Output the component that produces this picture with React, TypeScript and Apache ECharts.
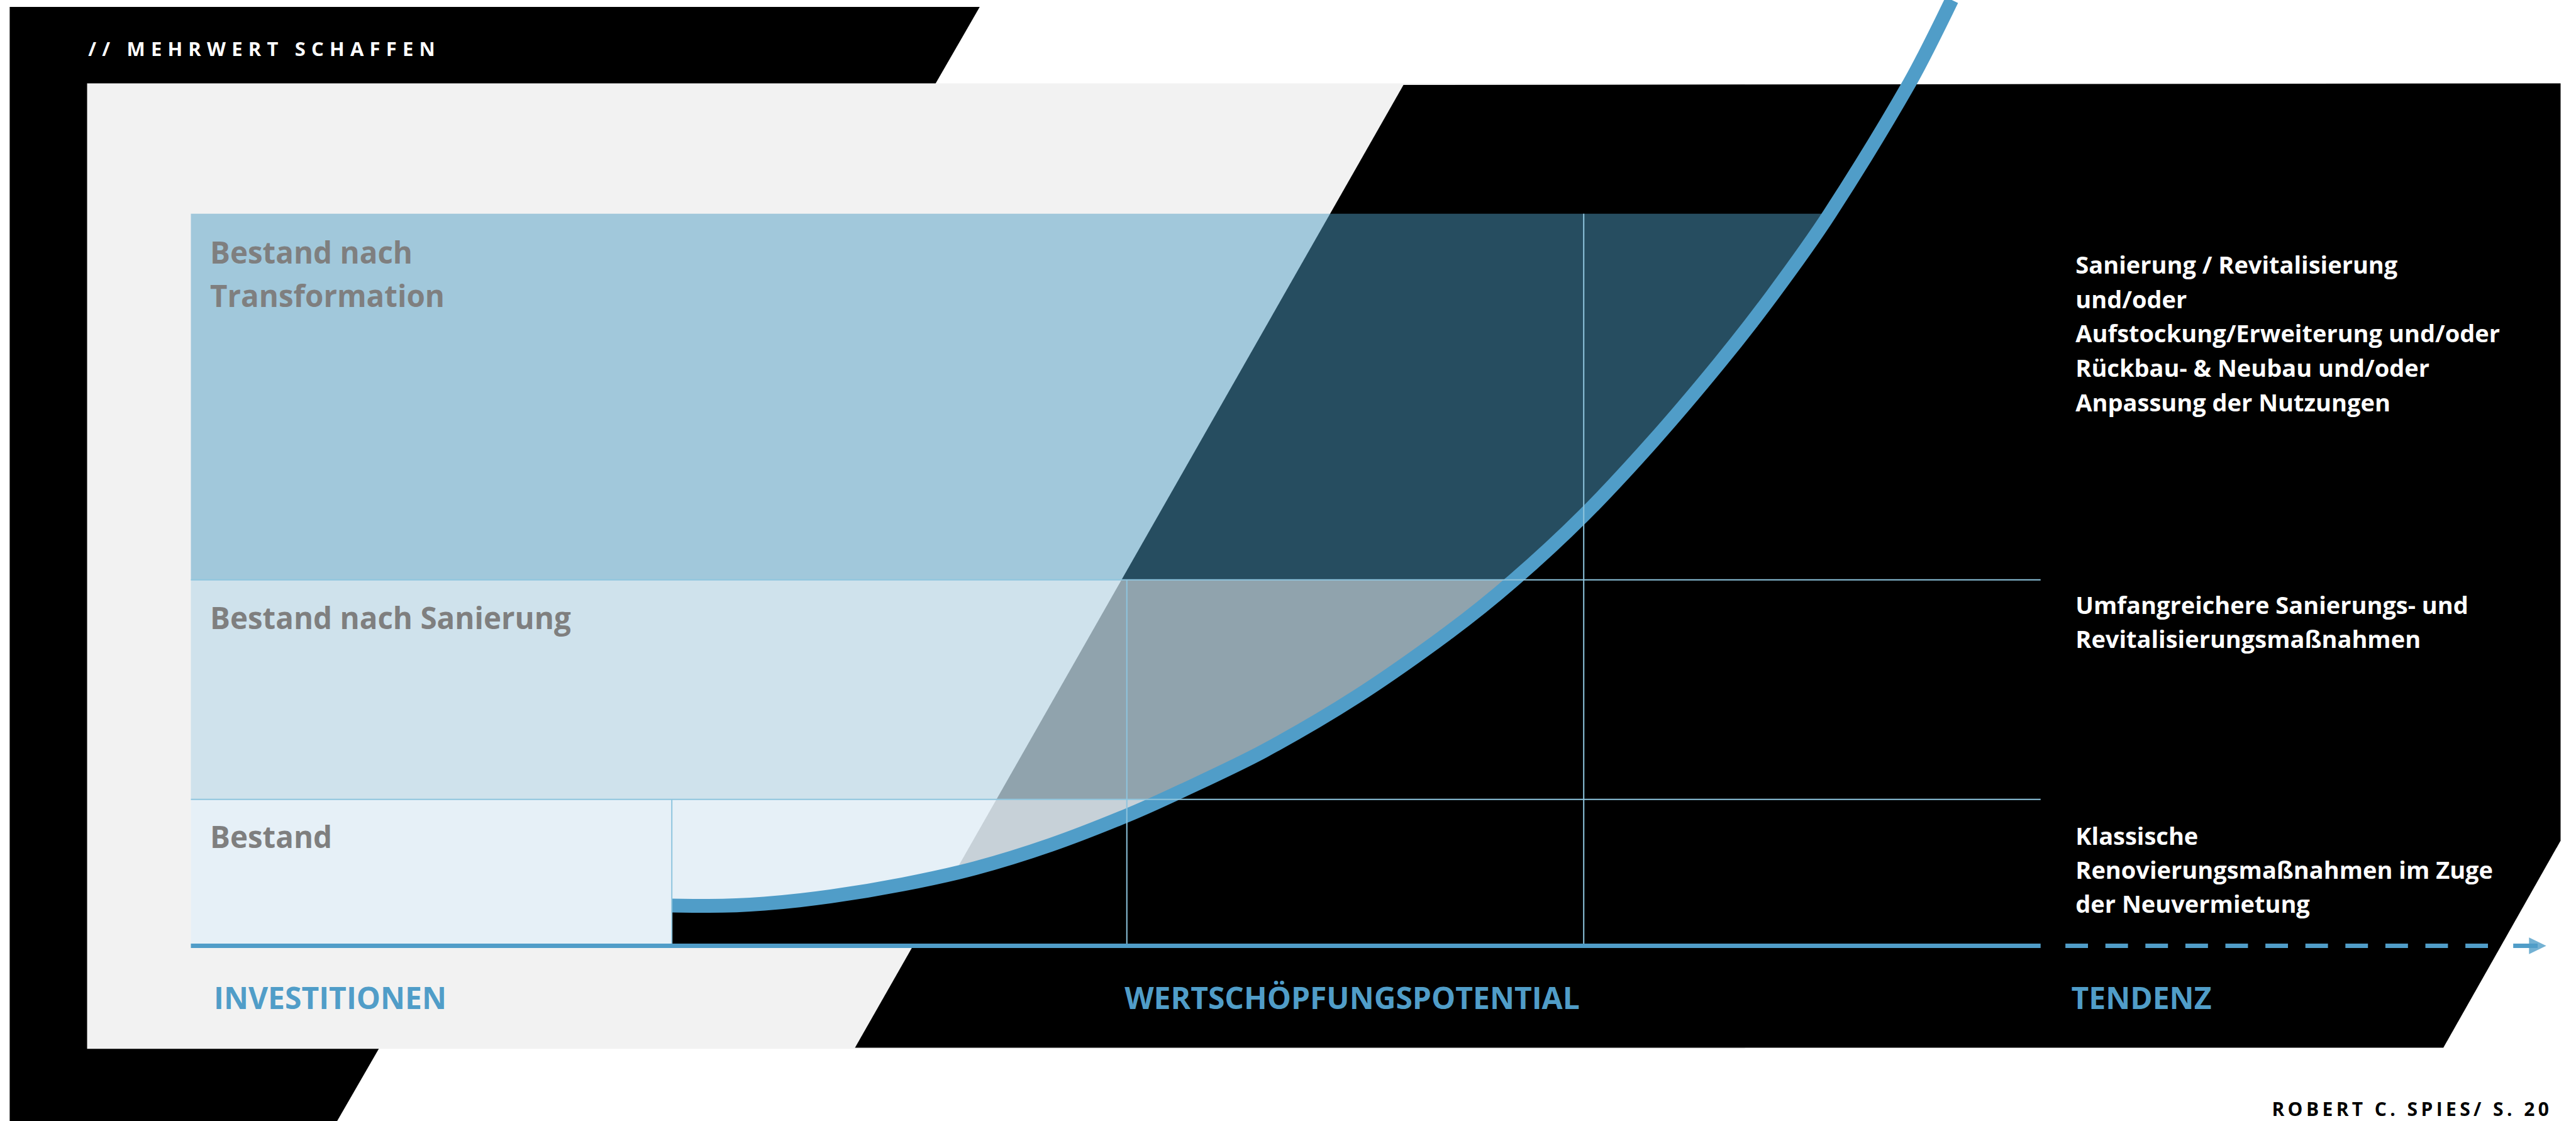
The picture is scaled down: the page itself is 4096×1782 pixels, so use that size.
import React, { useEffect, useRef } from "react";
import * as echarts from "echarts";

const W = 4096;
const H = 1782;

// ---- data (chart units) ----
const curveX = [26, 28, 31, 34.6, 38.5, 42.4, 46.5, 50.6, 53.6, 58, 63, 68, 71.5, 75.3, 79, 82.6, 85.5, 88.6, 92.9, 95.2];
const curveY = [5.5, 5.45, 5.75, 6.75, 8.4, 10.6, 13.8, 17.8, 21.2, 26.6, 34.0, 42.8, 49.9, 58.8, 68.8, 79.5, 88.9, 100, 117.8, 129.2];

const bandLo = [0, 20, 50];
const bandHi = [20, 50, 100];
const bandLabels = ["Bestand", "Bestand nach Sanierung", "Bestand nach\nTransformation"];

const vLineX = [26, 50.6, 75.3];
const vLineTop = [20, 50, 100];
const hLineY = [20, 50];
const hLineEnd = [100, 100];

const axisSolid = [0, 100];
const axisDashed = [101.34, 124.2];
const arrowShaft = [125.55, 126.87];

const bottomLabels = ["INVESTITIONEN", "WERTSCHÖPFUNGSPOTENTIAL", "TENDENZ"];
const descTexts = [
  "Sanierung / Revitalisierung\nund/oder\nAufstockung/Erweiterung und/oder\nRückbau- & Neubau und/oder\nAnpassung der Nutzungen",
  "Umfangreichere Sanierungs- und\nRevitalisierungsmaßnahmen",
  "Klassische\nRenovierungsmaßnahmen im Zuge\nder Neuvermietung",
];
const headerText = "// MEHRWERT SCHAFFEN";
const footerText = "ROBERT C. SPIES/ S. 20";

// ---- styles / layout ----
const BLUE = "#509dc8";
const LINE = "#8ec5de";
const bandFills = ["rgba(228,239,247,0.876)", "rgba(194,220,234,0.74)", "rgba(78,158,195,0.49)"];
const FONT = "Open Sans";

function xAtY(y: number): number {
  for (let i = 1; i < curveX.length - 1; i++) {
    const y0 = curveY[i];
    const y1 = curveY[i + 1];
    if (y >= y0 && y <= y1) {
      return curveX[i] + ((curveX[i + 1] - curveX[i]) * (y - y0)) / (y1 - y0);
    }
  }
  return curveX[curveX.length - 1];
}

function txt(text: string, x: number, y: number, size: number, fill: string, align = "left", lineHeight?: number) {
  return {
    type: "text",
    x,
    y,
    z: 20,
    style: {
      text,
      fill,
      fontSize: size,
      fontWeight: "bold",
      fontFamily: FONT,
      align,
      verticalAlign: "middle",
      lineHeight: lineHeight || size * 1.3,
    },
  };
}

export default function App() {
  const ref = useRef<HTMLDivElement>(null);

  useEffect(() => {
    const el = ref.current as HTMLDivElement;
    const chart = echarts.init(el, undefined, { renderer: "svg", width: W, height: H });

    const gridSegs = [
      ...vLineX.map((x, i) => [x, 0, x, vLineTop[i]]),
      ...hLineY.map((y, i) => [0, y, hLineEnd[i], y]),
    ];

    const option: any = {
      animation: false,
      backgroundColor: "#ffffff",
      grid: { left: 303.5, top: 0, width: 128 * 29.412, height: 129.2 * 11.637 },
      xAxis: { type: "value", min: 0, max: 128, show: false },
      yAxis: { type: "value", min: 0, max: 129.2, show: false },
      graphic: [
        {
          type: "polygon",
          z: 0,
          shape: { points: [[15.4, 11.1], [1557.8, 11.1], [536.1, 1782], [15.4, 1782]] },
          style: { fill: "#000000" },
        },
        {
          type: "rect",
          z: 0.5,
          shape: { x: 138.5, y: 132.5, width: 2636, height: 1534.7 },
          style: { fill: "#f2f2f2" },
        },
        {
          type: "polygon",
          z: 1,
          shape: {
            points: [[2231.6, 135.1], [4071.5, 132.5], [4071.5, 1336.4], [3885.1, 1665.5], [1359.5, 1665.5]],
          },
          style: { fill: "#000000" },
        },
        txt(headerText, 140.2, 76.9, 31, "#ffffff"),
        txt(footerText, 3612.4, 1762.5, 30, "#000000"),
        txt(bandLabels[2], 334, 435.0, 47.5, "#7f7f7f", "left", 68.4),
        txt(bandLabels[1], 334, 981.4, 47.5, "#7f7f7f"),
        txt(bandLabels[0], 334, 1329.3, 47.5, "#7f7f7f"),
        txt(bottomLabels[0], 340, 1585.4, 48, BLUE),
        txt(bottomLabels[1], 2150, 1585.4, 48, BLUE, "center"),
        txt(bottomLabels[2], 3293.5, 1585.4, 48, BLUE),
        txt(descTexts[0], 3300.3, 529.4, 38, "#ffffff", "left", 54.9),
        txt(descTexts[1], 3300.3, 988.3, 38, "#ffffff", "left", 54),
        txt(descTexts[2], 3300.3, 1382.0, 38, "#ffffff", "left", 54.3),
      ],
      series: [
        {
          type: "custom",
          name: "underCurve",
          z: 2,
          data: [[0, 0]],
          renderItem: (_p: any, api: any) => {
            const pts: number[][] = [[curveX[0], 0]];
            let lastX = curveX[0];
            for (let k = 0; k < curveX.length; k++) {
              if (curveY[k] <= 35) {
                pts.push([curveX[k], curveY[k]]);
                lastX = curveX[k];
              }
            }
            pts.push([lastX, 0]);
            return {
              type: "polygon",
              shape: { points: pts.map((p) => api.coord(p)) },
              style: { fill: "#000000" },
            };
          },
        },
        {
          type: "custom",
          name: "bands",
          z: 3,
          data: bandLo.map((lo, i) => [lo, bandHi[i]]),
          renderItem: (params: any, api: any) => {
            const i = params.dataIndex;
            const lo = api.value(0);
            const hi = api.value(1);
            const pts: number[][] = [[0, lo], [0, hi], [xAtY(hi), hi]];
            for (let k = curveX.length - 1; k >= 0; k--) {
              if (curveY[k] < hi && curveY[k] > lo) pts.push([curveX[k], curveY[k]]);
            }
            if (curveY[0] > lo) pts.push([curveX[0], lo]);
            else pts.push([xAtY(lo), lo]);
            return {
              type: "polygon",
              shape: { points: pts.map((p) => api.coord(p)) },
              style: { fill: bandFills[i] },
            };
          },
        },
        {
          type: "line",
          name: "curve",
          z: 4,
          clip: false,
          data: curveX.map((x, i) => [x, curveY[i]]),
          smooth: 0.3,
          symbol: "none",
          lineStyle: { color: BLUE, width: 22, cap: "butt", join: "round" },
        },
        {
          type: "custom",
          name: "gridLines",
          z: 5,
          data: gridSegs,
          renderItem: (_p: any, api: any) => {
            const a = api.coord([api.value(0), api.value(1)]);
            const b = api.coord([api.value(2), api.value(3)]);
            return {
              type: "line",
              shape: { x1: a[0], y1: a[1], x2: b[0], y2: b[1] },
              style: { stroke: LINE, lineWidth: 2 },
            };
          },
        },
        {
          type: "line",
          name: "axis",
          z: 6,
          clip: false,
          data: axisSolid.map((x) => [x, 0]),
          symbol: "none",
          lineStyle: { color: BLUE, width: 7, cap: "butt" },
        },
        {
          type: "line",
          name: "trend",
          z: 6,
          clip: false,
          data: axisDashed.map((x) => [x, 0]),
          symbol: "none",
          lineStyle: { color: BLUE, width: 7, type: [35.9, 27.7], cap: "butt" },
        },
        {
          type: "line",
          name: "shaft",
          z: 6,
          clip: false,
          data: arrowShaft.map((x) => [x, 0]),
          symbol: "none",
          lineStyle: { color: BLUE, width: 7, cap: "butt" },
        },
        {
          type: "scatter",
          name: "arrow",
          z: 6,
          clip: false,
          data: [[arrowShaft[1], 0]],
          symbol: "triangle",
          symbolRotate: -90,
          symbolSize: [26.5, 27.4],
          itemStyle: { color: BLUE },
        },
      ],
    };

    chart.setOption(option);

    const applySpacing = () => {
      el.querySelectorAll("text").forEach((t) => {
        const s = t.textContent;
        if (s === headerText) t.setAttribute("letter-spacing", "9.2");
        if (s === footerText) t.setAttribute("letter-spacing", "5.4");
      });
    };
    applySpacing();
    chart.on("finished", applySpacing);

    return () => {
      chart.dispose();
    };
  }, []);

  return (
    <div
      ref={ref}
      style={{ position: "absolute", left: 0, top: 0, width: W, height: H, background: "#ffffff" }}
    />
  );
}
